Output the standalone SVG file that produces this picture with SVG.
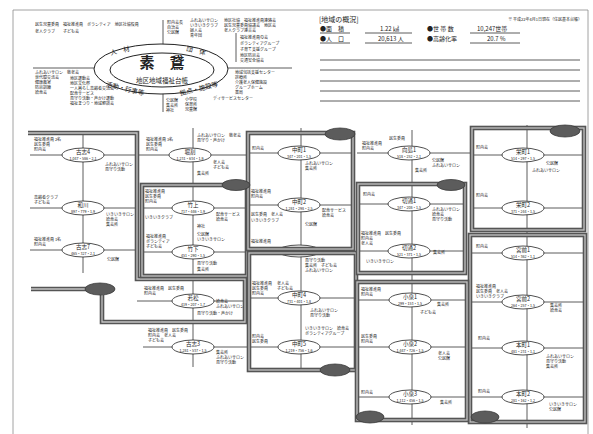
<svg xmlns="http://www.w3.org/2000/svg" xmlns:xlink="http://www.w3.org/1999/xlink" width="593" height="434" viewBox="0 0 593 434">
<style>
text{font-family:"Noto Sans CJK JP","Noto Sans",sans-serif;fill:#222}
.t{font-size:4px}
.nm{font-size:5.5px;text-anchor:middle}
.num{font-size:3.6px;text-anchor:middle}
.ln{stroke:#333;stroke-width:0.8;fill:none}
.fo{fill:none;stroke:#555;stroke-width:4.6}
.fi{fill:none;stroke:#c4c4c4;stroke-width:1.3}
.leaf{fill:#5c5c5c;stroke:#3a3a3a;stroke-width:0.8}
.node ellipse{fill:#fff;stroke:#222;stroke-width:0.8}
.hd{font-size:6px}
.band{font-size:6.5px;text-anchor:middle}
</style>
<defs>
<path id="fAC" d="M31,289 H86 M102,295 V322 H245 V279 H137 V133 H28"/>
<rect id="fB" x="142" y="185" width="105" height="91"/>
<rect id="fD" x="248" y="133" width="105" height="116"/>
<rect id="fE" x="249" y="253" width="107" height="117"/>
<rect id="fG" x="358" y="184" width="107" height="89"/>
<rect id="fH" x="472" y="128" width="112" height="102"/>
<rect id="fI" x="470" y="235" width="115" height="187"/>
<rect id="fJ" x="357" y="282" width="110" height="138"/>
</defs>
<rect width="593" height="434" fill="#fff"/>
<path d="M13,434 V10 H588 V434" fill="none" stroke="#8a8a8a" stroke-width="0.8"/>

<g id="header-chart">
<line class="ln" x1="33" y1="68" x2="292" y2="68"/>
<line class="ln" x1="163" y1="20" x2="163" y2="112"/>
<line class="ln" x1="236" y1="33" x2="236" y2="62"/>
<ellipse cx="161" cy="69" rx="67" ry="25" fill="#fff" stroke="#222" stroke-width="1"/>
<ellipse cx="162" cy="70" rx="52" ry="17" fill="#fff" stroke="#222" stroke-width="1"/>
<text x="162" y="68" font-size="15" font-weight="bold" text-anchor="middle">素　鵞</text>
<text x="162" y="83" font-size="6.5" text-anchor="middle">地区地域福祉台帳</text>
<text class="band" x="120" y="53" transform="rotate(-14 120 51)">人　材</text>
<text class="band" x="196" y="53" transform="rotate(14 196 51)">団　体</text>
<text class="band" x="125" y="91" transform="rotate(14 125 89)">活動・行事等</text>
<text class="band" x="199" y="91" transform="rotate(-14 199 89)">拠点・施設等</text>
<text class="t" x="35" y="26">民生児童委員　福祉推進員　ボランティア　地区社協役員</text>
<text class="t" x="35" y="33">老人クラブ　　子ども会</text>
<text class="t" x="167" y="24">町内会長</text>
<text class="t" x="167" y="29">自治会</text>
<text class="t" x="167" y="34">公民館</text>
<text class="t" x="190" y="22">ふれあいサロン</text>
<text class="t" x="190" y="27">いきいきクラブ</text>
<text class="t" x="190" y="32">婦人会</text>
<text class="t" x="190" y="37">青年団</text>
<text class="t" x="224" y="22">地区社協　福祉推進員連絡会</text>
<text class="t" x="224" y="27">民生児童委員協議会　地区会</text>
<text class="t" x="224" y="32">老人クラブ連合会</text>
<text class="t" x="240" y="39">福祉推進員の会</text>
<text class="t" x="240" y="45">ボランティアグループ</text>
<text class="t" x="240" y="51">子育て支援グループ</text>
<text class="t" x="240" y="57">地区防災会</text>
<text class="t" x="240" y="62">交通安全協会</text>
<text class="t" x="35" y="74">ふれあいサロン　敬老会</text>
<text class="t" x="35" y="79">世代間交流会</text>
<text class="t" x="35" y="84">健康教室</text>
<text class="t" x="35" y="89">防災訓練</text>
<text class="t" x="35" y="94">給食会</text>
<text class="t" x="70" y="80">地区運動会</text>
<text class="t" x="70" y="85">地区文化祭</text>
<text class="t" x="70" y="90">一人暮らし高齢者交流会</text>
<text class="t" x="70" y="95">配食サービス</text>
<text class="t" x="70" y="100">見守り活動・声かけ運動</text>
<text class="t" x="70" y="105">福祉まつり・地域懇談会</text>
<text class="t" x="166" y="102">公民館</text>
<text class="t" x="166" y="107">集会所</text>
<text class="t" x="166" y="112">神社</text>
<text class="t" x="185" y="101">小学校</text>
<text class="t" x="185" y="106">保育所</text>
<text class="t" x="185" y="111">児童館</text>
<text class="t" x="213" y="100">デイサービスセンター</text>
<text class="t" x="235" y="74">地域包括支援センター</text>
<text class="t" x="235" y="79">診療所</text>
<text class="t" x="235" y="84">介護老人保健施設</text>
<text class="t" x="235" y="89">グループホーム</text>
<text class="t" x="235" y="94">薬局</text>
</g>

<g id="overview">
<text x="319" y="22" font-size="7">[地域の概況]</text>
<text class="t" x="582" y="21" text-anchor="end">※ 平成22年4月1日現在（住民基本台帳）</text>
<text class="hd" x="320" y="31">●面　積</text>
<text class="hd" x="380" y="31">1.22 ㎢</text>
<text class="hd" x="427" y="31">●世 帯 数</text>
<text class="hd" x="477" y="31">10,247世帯</text>
<text class="hd" x="320" y="41">●人　口</text>
<text class="hd" x="378" y="41">20,613 人</text>
<text class="hd" x="427" y="41">●高齢化率</text>
<text class="hd" x="487" y="41">20.7 %</text>
<g class="ln">
<line x1="320" y1="33" x2="350" y2="33"/><line x1="365" y1="33" x2="412" y2="33"/><line x1="470" y1="33" x2="520" y2="33"/>
<line x1="320" y1="43" x2="350" y2="43"/><line x1="365" y1="43" x2="412" y2="43"/><line x1="470" y1="43" x2="520" y2="43"/>
<line x1="320" y1="60" x2="580" y2="60"/>
<line x1="320" y1="70" x2="580" y2="70"/>
<line x1="320" y1="81" x2="580" y2="81"/>
<line x1="320" y1="91" x2="580" y2="91"/>
<line x1="320" y1="101" x2="580" y2="101"/>
</g>
</g>

<g id="connectors" class="ln">
<line x1="83" y1="133" x2="83" y2="273"/>
<line x1="193" y1="128" x2="193" y2="367"/>
<line x1="301" y1="128" x2="301" y2="372"/>
<line x1="412" y1="130" x2="412" y2="425"/>
<line x1="527" y1="125" x2="527" y2="428"/>
<line x1="30" y1="155" x2="137" y2="155"/>
<line x1="30" y1="208" x2="137" y2="208"/>
<line x1="30" y1="250" x2="137" y2="250"/>
<line x1="137" y1="155" x2="250" y2="155"/>
<line x1="142" y1="208" x2="247" y2="208"/>
<line x1="142" y1="252" x2="247" y2="252"/>
<line x1="137" y1="301" x2="245" y2="301"/>
<line x1="143" y1="347" x2="248" y2="347"/>
<line x1="248" y1="153" x2="353" y2="153"/>
<line x1="248" y1="205" x2="353" y2="205"/>
<line x1="248" y1="252" x2="356" y2="252"/>
<line x1="249" y1="298" x2="356" y2="298"/>
<line x1="249" y1="347" x2="356" y2="347"/>
<line x1="357" y1="153" x2="470" y2="153"/>
<line x1="358" y1="204" x2="465" y2="204"/>
<line x1="358" y1="251" x2="465" y2="251"/>
<line x1="357" y1="300" x2="467" y2="300"/>
<line x1="357" y1="347" x2="467" y2="347"/>
<line x1="357" y1="397" x2="467" y2="397"/>
<line x1="472" y1="155" x2="584" y2="155"/>
<line x1="472" y1="208" x2="584" y2="208"/>
<line x1="470" y1="253" x2="585" y2="253"/>
<line x1="470" y1="302" x2="585" y2="302"/>
<line x1="470" y1="348" x2="585" y2="348"/>
<line x1="470" y1="397" x2="585" y2="397"/>
</g>

<g id="n1" class="node"><ellipse cx="83" cy="155" rx="21" ry="7"/><text class="nm" x="83" y="154">古志4</text><text class="num" x="83" y="159.5">1,047・586・2.1</text>
<text class="t" x="34" y="141">福祉推進員 2名</text><text class="t" x="34" y="146">民生委員</text><text class="t" x="34" y="151">町内会</text>
<text class="t" x="105" y="166">ふれあいサロン</text><text class="t" x="105" y="171">見守り活動</text></g>
<g id="n2" class="node"><ellipse cx="83" cy="208" rx="21" ry="7"/><text class="nm" x="83" y="207">和川</text><text class="num" x="83" y="212.5">897・779・1.9</text>
<text class="t" x="34" y="199">高齢者クラブ</text><text class="t" x="34" y="204">子ども会</text>
<text class="t" x="106" y="216">いきいきサロン</text><text class="t" x="106" y="221">給食会</text><text class="t" x="106" y="226">集会所</text></g>
<g id="n3" class="node"><ellipse cx="83" cy="250" rx="21" ry="7"/><text class="nm" x="83" y="249">古志7</text><text class="num" x="83" y="254.5">465・327・2.1</text>
<text class="t" x="34" y="241">福祉推進員 1名</text><text class="t" x="34" y="246">町内会</text>
<text class="t" x="107" y="261">公民館</text></g>

<g id="n4" class="node"><ellipse cx="190" cy="155" rx="21" ry="7"/><text class="nm" x="190" y="154">堀割</text><text class="num" x="190" y="159.5">1,231・634・1.9</text>
<text class="t" x="146" y="141">福祉推進員 3名</text><text class="t" x="146" y="146">民生委員</text><text class="t" x="146" y="151">町内会</text>
<text class="t" x="197" y="137">ふれあいサロン　敬老会</text><text class="t" x="197" y="142">見守り・声かけ</text>
<text class="t" x="213" y="164">老人会</text><text class="t" x="213" y="169">子ども会</text><text class="t" x="197" y="175">集会所</text></g>
<g id="n5" class="node"><ellipse cx="193" cy="208" rx="21" ry="7"/><text class="nm" x="193" y="207">竹上</text><text class="num" x="193" y="212.5">717・446・1.9</text>
<text class="t" x="145" y="193">福祉推進員</text><text class="t" x="145" y="198">民生委員</text><text class="t" x="145" y="203">町内会</text><text class="t" x="145" y="219">いきいきクラブ</text>
<text class="t" x="216" y="216">配食サービス</text><text class="t" x="216" y="221">給食会</text><text class="t" x="197" y="228">神社</text></g>
<g id="n6" class="node"><ellipse cx="193" cy="252" rx="21" ry="7"/><text class="nm" x="193" y="251">竹下</text><text class="num" x="193" y="256.5">451・290・1.5</text>
<text class="t" x="146" y="238">福祉推進員</text><text class="t" x="146" y="243">ボランティア</text><text class="t" x="146" y="248">子ども会</text>
<text class="t" x="197" y="236">公民館</text><text class="t" x="197" y="241">いきいきサロン</text>
<text class="t" x="197" y="265">見守り活動</text><text class="t" x="197" y="271">集会所</text></g>
<g id="n7" class="node"><ellipse cx="193" cy="301" rx="21" ry="7"/><text class="nm" x="193" y="300">若松</text><text class="num" x="193" y="305.5">419・207・1.7</text>
<text class="t" x="144" y="290">福祉推進員　民生委員</text><text class="t" x="144" y="295">町内会</text>
<text class="t" x="216" y="303">給食会</text><text class="t" x="216" y="308">ふれあいサロン</text><text class="t" x="197" y="315">見守り活動・声かけ</text></g>
<g id="n8" class="node"><ellipse cx="193" cy="347" rx="21" ry="7"/><text class="nm" x="193" y="346">古志3</text><text class="num" x="193" y="351.5">1,281・537・1.5</text>
<text class="t" x="148" y="332">福祉推進員　民生委員</text><text class="t" x="148" y="337">町内会　老人会</text><text class="t" x="148" y="342">子ども会</text>
<text class="t" x="216" y="354">集会所</text><text class="t" x="216" y="359">ふれあいサロン</text><text class="t" x="216" y="364">見守り活動</text></g>

<g id="n9" class="node"><ellipse cx="299" cy="153" rx="21" ry="7"/><text class="nm" x="299" y="152">中町1</text><text class="num" x="299" y="157.5">347・201・1.5</text>
<text class="t" x="252" y="150">町内会</text>
<text class="t" x="305" y="165">ふれあいサロン</text><text class="t" x="305" y="170">集会所</text></g>
<g id="n10" class="node"><ellipse cx="299" cy="205" rx="21" ry="7"/><text class="nm" x="299" y="204">中町2</text><text class="num" x="299" y="209.5">1,281・298・2.5</text>
<text class="t" x="251" y="193">福祉推進員</text><text class="t" x="251" y="198">町内会</text><text class="t" x="251" y="216">民生委員　老人会</text><text class="t" x="251" y="222">いきいきクラブ</text>
<text class="t" x="322" y="212">配食サービス</text><text class="t" x="322" y="217">給食会</text><text class="t" x="305" y="226">公民館</text></g>
<g id="n11" class="node"><ellipse cx="299" cy="251" rx="21" ry="6"/>
<text class="t" x="251" y="243">福祉推進員</text>
<text class="t" x="305" y="262">見守り活動</text><text class="t" x="305" y="267">集会所　子ども会</text><text class="t" x="305" y="272">ふれあいサロン</text></g>
<g id="n12" class="node"><ellipse cx="299" cy="298" rx="21" ry="7"/><text class="nm" x="299" y="297">中町4</text><text class="num" x="299" y="302.5">731・401・1.8</text>
<text class="t" x="252" y="285">福祉推進員</text><text class="t" x="252" y="290">民生委員</text><text class="t" x="252" y="295">町内会</text>
<text class="t" x="277" y="285">老人会</text><text class="t" x="277" y="290">子ども会</text>
<text class="t" x="310" y="312">ふれあいサロン</text><text class="t" x="310" y="317">見守り活動</text></g>
<g id="n13" class="node"><ellipse cx="299" cy="347" rx="21" ry="7"/><text class="nm" x="299" y="346">中町5</text><text class="num" x="299" y="351.5">1,219・756・1.6</text>
<text class="t" x="252" y="338">町内会</text><text class="t" x="252" y="343">民生委員</text>
<text class="t" x="305" y="330">いきいきサロン　給食会</text><text class="t" x="305" y="335">ボランティアグループ</text></g>

<g id="n14" class="node"><ellipse cx="409" cy="153" rx="21" ry="7"/><text class="nm" x="409" y="152">向島1</text><text class="num" x="409" y="157.5">518・252・2.1</text>
<text class="t" x="362" y="145">福祉推進員</text><text class="t" x="362" y="150">町内会</text><text class="t" x="389" y="140">民生委員</text>
<text class="t" x="432" y="162">公民館</text><text class="t" x="432" y="167">ふれあいサロン</text><text class="t" x="415" y="172">集会所</text></g>
<g id="n15" class="node"><ellipse cx="409" cy="204" rx="21" ry="7"/><text class="nm" x="409" y="203">切通1</text><text class="num" x="409" y="208.5">347・208・1.5</text>
<text class="t" x="363" y="196">町内会</text>
<text class="t" x="432" y="211">ふれあいサロン</text><text class="t" x="432" y="216">給食会</text><text class="t" x="432" y="221">見守り活動</text></g>
<g id="n16" class="node"><ellipse cx="409" cy="251" rx="21" ry="7"/><text class="nm" x="409" y="250">切通2</text><text class="num" x="409" y="255.5">521・371・1.5</text>
<text class="t" x="361" y="235">福祉推進員　民生委員</text><text class="t" x="361" y="240">町内会</text><text class="t" x="361" y="245">老人会</text><text class="t" x="366" y="263">いきいきサロン</text>
<text class="t" x="433" y="254">集会所</text></g>
<g id="n17" class="node"><ellipse cx="410" cy="300" rx="21" ry="7"/><text class="nm" x="410" y="299">小泉1</text><text class="num" x="410" y="304.5">299・153・1.5</text>
<text class="t" x="361" y="291">福祉推進員</text><text class="t" x="361" y="296">町内会</text>
<text class="t" x="437" y="306">集会所</text><text class="t" x="420" y="314">子ども会</text></g>
<g id="n18" class="node"><ellipse cx="410" cy="347" rx="21" ry="7"/><text class="nm" x="410" y="346">小泉2</text><text class="num" x="410" y="351.5">1,447・726・1.5</text>
<text class="t" x="361" y="338">民生委員</text><text class="t" x="361" y="343">町内会</text>
<text class="t" x="438" y="355">老人会</text><text class="t" x="438" y="360">公民館</text></g>
<g id="n19" class="node"><ellipse cx="410" cy="397" rx="21" ry="7"/><text class="nm" x="410" y="396">小泉3</text><text class="num" x="410" y="401.5">1,112・456・1.5</text>
<text class="t" x="361" y="394">町内会</text>
<text class="t" x="440" y="404">集会所</text></g>

<g id="n20" class="node"><ellipse cx="523" cy="155" rx="21" ry="7"/><text class="nm" x="523" y="154">栄町1</text><text class="num" x="523" y="159.5">514・297・1.5</text>
<text class="t" x="476" y="149">町内会</text>
<text class="t" x="546" y="165">公民館</text><text class="t" x="532" y="172">ふれあいサロン</text></g>
<g id="n21" class="node"><ellipse cx="523" cy="208" rx="21" ry="7"/><text class="nm" x="523" y="207">栄町2</text><text class="num" x="523" y="212.5">371・244・1.5</text>
<text class="t" x="476" y="197">町内会</text></g>
<g id="n22" class="node"><ellipse cx="523" cy="253" rx="21" ry="7"/><text class="nm" x="523" y="252">宮前1</text><text class="num" x="523" y="257.5">514・362・1.1</text>
<text class="t" x="476" y="248">町内会</text></g>
<g id="n23" class="node"><ellipse cx="523" cy="302" rx="21" ry="7"/><text class="nm" x="523" y="301">宮前2</text><text class="num" x="523" y="306.5">264・257・1.5</text>
<text class="t" x="476" y="288">福祉推進員</text><text class="t" x="476" y="293">民生委員　老人会</text><text class="t" x="476" y="298">いきいきクラブ</text>
<text class="t" x="550" y="307">集会所</text><text class="t" x="550" y="312">給食会</text></g>
<g id="n24" class="node"><ellipse cx="523" cy="348" rx="21" ry="7"/><text class="nm" x="523" y="347">本町1</text><text class="num" x="523" y="352.5">481・231・1.1</text>
<text class="t" x="478" y="340">町内会</text>
<text class="t" x="546" y="358">ふれあいサロン</text><text class="t" x="546" y="363">見守り活動</text><text class="t" x="546" y="368">集会所</text></g>
<g id="n25" class="node"><ellipse cx="523" cy="397" rx="21" ry="7"/><text class="nm" x="523" y="396">本町2</text><text class="num" x="523" y="401.5">281・162・1.2</text>
<text class="t" x="478" y="393">町内会</text>
<text class="t" x="549" y="406">いきいきサロン</text><text class="t" x="549" y="411">公民館</text></g>

<g id="regions">
<use href="#fAC" class="fo"/><use href="#fAC" class="fi"/>
<use href="#fB" class="fo"/><use href="#fB" class="fi"/>
<use href="#fD" class="fo"/><use href="#fD" class="fi"/>
<use href="#fE" class="fo"/><use href="#fE" class="fi"/>
<use href="#fG" class="fo"/><use href="#fG" class="fi"/>
<use href="#fH" class="fo"/><use href="#fH" class="fi"/>
<use href="#fI" class="fo"/><use href="#fI" class="fi"/>
<use href="#fJ" class="fo"/><use href="#fJ" class="fi"/>
<ellipse class="leaf" cx="100" cy="289" rx="15" ry="6"/>
<ellipse class="leaf" cx="236" cy="185" rx="14" ry="5.5"/>
<ellipse class="leaf" cx="340" cy="134" rx="15" ry="6"/>
<ellipse class="leaf" cx="335" cy="370" rx="15" ry="6"/>
<ellipse class="leaf" cx="451" cy="185" rx="14" ry="5.5"/>
<ellipse class="leaf" cx="565" cy="131" rx="15" ry="6"/>
<ellipse class="leaf" cx="485" cy="417" rx="14" ry="6"/>
<ellipse class="leaf" cx="370" cy="417" rx="14" ry="6"/>
</g>
</svg>
